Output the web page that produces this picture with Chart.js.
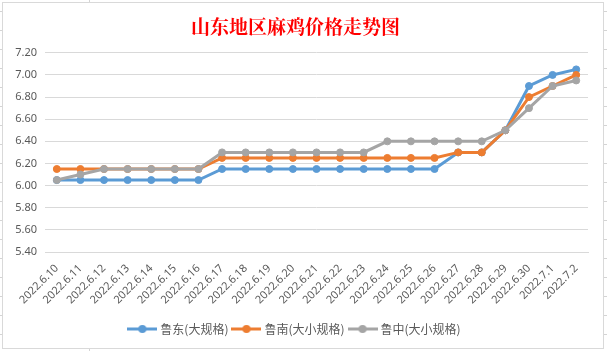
<!DOCTYPE html>
<html>
<head>
<meta charset="utf-8">
<script src="https://cdn.jsdelivr.net/npm/chart.js@4"></script>
<style>
  html, body { margin: 0; padding: 0; }
  body {
    width: 607px; height: 351px; position: relative; overflow: hidden;
    background-color: #fff;
    background-image:
      repeating-linear-gradient(to bottom, transparent 0, transparent 11px, #d4d4d4 11px, #d4d4d4 12px, transparent 12px, transparent 19px),
      linear-gradient(to right, transparent 89px, #d4d4d4 89px, #d4d4d4 90px, transparent 90px);
  }
  #box {
    position: absolute; left: 2px; top: 2px; width: 602px; height: 347px;
    box-sizing: border-box; border: 1px solid #d9d9d9; background: #fff;
  }
  canvas { display: block; }
</style>
</head>
<body>
<div id="box"><canvas id="priceChart" width="600" height="345"></canvas></div>
<script>
// dates on the x axis
const dates = ['2022.6.10', '2022.6.11', '2022.6.12', '2022.6.13', '2022.6.14', '2022.6.15',
    '2022.6.16', '2022.6.17', '2022.6.18', '2022.6.19', '2022.6.20', '2022.6.21', '2022.6.22',
    '2022.6.23', '2022.6.24', '2022.6.25', '2022.6.26', '2022.6.27', '2022.6.28', '2022.6.29',
    '2022.6.30', '2022.7.1', '2022.7.2'];

// prices per region
const ludong = [6.05, 6.05, 6.05, 6.05, 6.05, 6.05, 6.05, 6.15, 6.15, 6.15, 6.15, 6.15, 6.15,
    6.15, 6.15, 6.15, 6.15, 6.30, 6.30, 6.50, 6.90, 7.00, 7.05];
const lunan = [6.15, 6.15, 6.15, 6.15, 6.15, 6.15, 6.15, 6.25, 6.25, 6.25, 6.25, 6.25, 6.25,
    6.25, 6.25, 6.25, 6.25, 6.30, 6.30, 6.50, 6.80, 6.90, 7.00];
const luzhong = [6.05, 6.10, 6.15, 6.15, 6.15, 6.15, 6.15, 6.30, 6.30, 6.30, 6.30, 6.30, 6.30,
    6.30, 6.40, 6.40, 6.40, 6.40, 6.40, 6.50, 6.70, 6.90, 6.95];

const seriesNames = ['鲁东(大规格)', '鲁南(大小规格)', '鲁中(大小规格)'];
const yTicks = [5.40, 5.60, 5.80, 6.00, 6.20, 6.40, 6.60, 6.80, 7.00, 7.20];

const colors = ['#5B9BD5', '#ED7D31', '#A5A5A5'];
const textColor = '#595959';

// little "line with a dot" icons for the legend, like excel draws them
function legendIcon(color) {
    const c = document.createElement('canvas');
    c.width = 30; c.height = 10;
    const g = c.getContext('2d');
    g.strokeStyle = color;
    g.lineWidth = 3;
    g.beginPath();
    g.moveTo(0, 5);
    g.lineTo(30, 5);
    g.stroke();
    g.fillStyle = color;
    g.beginPath();
    g.arc(15, 5, 4, 0, Math.PI * 2);
    g.fill();
    return c;
}
const icons = colors.map(legendIcon);

function makeSet(i, values) {
    return {
        label: seriesNames[i],
        data: values,
        borderColor: colors[i],
        backgroundColor: colors[i],
        borderWidth: 3,
        pointRadius: 3.5,
        pointBorderWidth: 1,
        pointBackgroundColor: colors[i],
        pointBorderColor: colors[i],
        tension: 0,
        order: 3 - i // later series on top
    };
}

const ctx = document.getElementById('priceChart').getContext('2d');
const priceChart = new Chart(ctx, {
    type: 'line',
    data: {
        labels: dates,
        datasets: [makeSet(0, ludong), makeSet(1, lunan), makeSet(2, luzhong)]
    },
    options: {
        responsive: false,
        animation: false,
        layout: { padding: { left: 0, right: 15, top: 0, bottom: 3 } },
        plugins: {
            title: {
                display: true,
                text: '山东地区麻鸡价格走势图',
                color: '#FF0000',
                font: { family: '"Noto Serif CJK SC", "Noto Sans CJK SC", serif', size: 19, weight: 'bold' },
                padding: { top: 12, bottom: 15 }
            },
            legend: {
                position: 'bottom',
                labels: {
                    usePointStyle: true,
                    pointStyleWidth: 24,
                    padding: 6,
                    color: textColor,
                    font: { family: '"Noto Sans CJK SC", sans-serif', size: 12 },
                    sort: (a, b) => a.datasetIndex - b.datasetIndex,
                    generateLabels: function (chart) {
                        const items = Chart.defaults.plugins.legend.labels.generateLabels(chart);
                        items.forEach(it => { it.pointStyle = icons[it.datasetIndex]; });
                        return items;
                    }
                }
            },
            tooltip: { enabled: false }
        },
        scales: {
            x: {
                offset: true,
                grid: { display: false },
                border: { color: '#d9d9d9', width: 1 },
                ticks: {
                    autoSkip: false,
                    minRotation: 45,
                    maxRotation: 45,
                    padding: 2,
                    color: textColor,
                    font: { family: '"Noto Sans", sans-serif', size: 11 }
                },
                afterFit: s => { s.height = 65; }
            },
            y: {
                min: 5.4,
                max: 7.2,
                afterBuildTicks: s => { s.ticks = yTicks.map(v => ({ value: v })); },
                grid: { color: '#d9d9d9', drawTicks: false },
                border: { display: false },
                ticks: {
                    padding: 8,
                    color: textColor,
                    font: { family: '"Noto Sans", sans-serif', size: 11 },
                    callback: v => Number(v).toFixed(2)
                },
                afterFit: s => { s.width = 42; }
            }
        }
    }
});
</script>
</body>
</html>
